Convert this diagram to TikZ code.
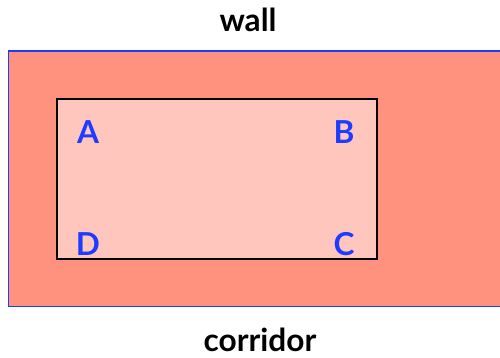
\documentclass[tikz,border=0pt]{standalone}
\usepackage{fontspec}
\setmainfont{Lato}
\usetikzlibrary{positioning}
\definecolor{wallred}{HTML}{FF917F}
\definecolor{roompink}{HTML}{FFC6BE}
\definecolor{cornerblue}{HTML}{1E3CFF}
\tikzset{
  corner/.style={text=cornerblue,font=\fontsize{18}{20}\selectfont\bfseries},
  caption/.style={font=\fontsize{18}{20}\selectfont\bfseries}
}

\begin{document}
\begin{tikzpicture}[x=0.02cm,y=-0.02cm]

		\useasboundingbox (0,0) rectangle (500,358);
		\clip (0,0) rectangle (500,358);

		% the wall around the room
		\draw[fill=wallred,draw=cornerblue,line width=1pt] (8.5,51) rectangle (530,306.5);

		% the room itself
		\draw[fill=roompink,draw=black,line width=1pt] (57,99) rectangle (377,259);

		% corners of the room
		\node[corner] (ca) at (88,132) {A};
		\node[corner] (cb) at (344,132) {B};
		\node[corner] (cc) at (344,244) {C};
		\node[corner] (cd) at (88,244) {D};

		% what lies outside
		\node[caption] (wall) at (248,20) {wall};
		\node[caption] (corridor) at (260,340) {corridor};

	\end{tikzpicture}
\end{document}
